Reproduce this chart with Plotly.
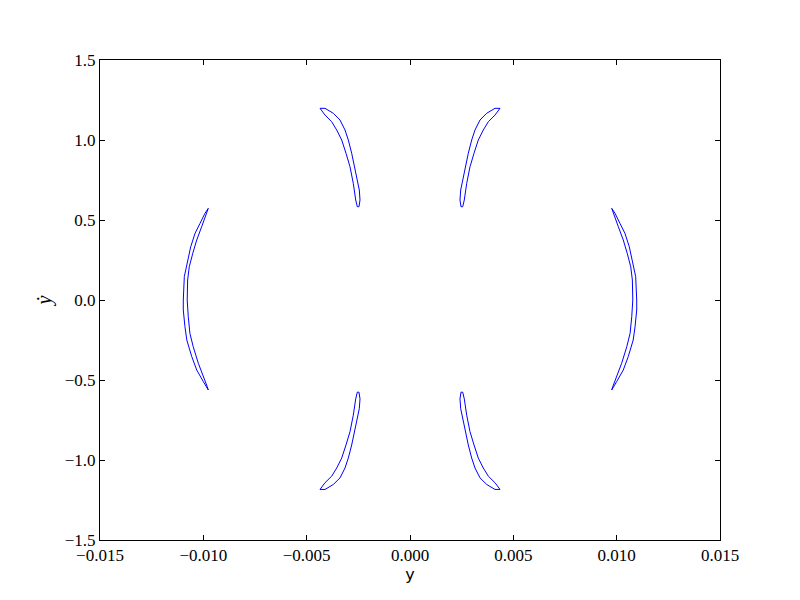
import plotly.graph_objects as go

# Upper-left crescent (outer edge and inner edge, tip to tip)
ul_outer_x = [-0.004355, -0.004113, -0.003711, -0.003387, -0.003145, -0.002985, -0.002821, -0.002695, -0.002579, -0.002453, -0.002419, -0.002468]
ul_outer_y = [1.198, 1.198, 1.167, 1.125, 1.0625, 1.0, 0.917, 0.833, 0.75, 0.6875, 0.625, 0.583]
ul_inner_x = [-0.004355, -0.004113, -0.003789, -0.003547, -0.003305, -0.003097, -0.002903, -0.002744, -0.002627, -0.00255]
ul_inner_y = [1.198, 1.156, 1.114, 1.0625, 1.0, 0.917, 0.833, 0.729, 0.625, 0.583]

# Upper-right crescent
ur_outer_x = [0.004355, 0.004113, 0.003711, 0.003387, 0.003145, 0.002985, 0.002821, 0.002695, 0.002579, 0.002453, 0.002419, 0.002468]
ur_outer_y = [1.198, 1.198, 1.167, 1.125, 1.0625, 1.0, 0.917, 0.833, 0.75, 0.6875, 0.625, 0.583]
ur_inner_x = [0.004355, 0.004113, 0.003789, 0.003547, 0.003305, 0.003097, 0.002903, 0.002744, 0.002627, 0.00255]
ur_inner_y = [1.198, 1.156, 1.114, 1.0625, 1.0, 0.917, 0.833, 0.729, 0.625, 0.583]

# Lower-left crescent
ll_outer_x = [-0.004355, -0.004113, -0.003711, -0.003387, -0.003145, -0.002985, -0.002821, -0.002695, -0.002579, -0.002453, -0.002419, -0.002468]
ll_outer_y = [-1.184, -1.184, -1.153, -1.112, -1.050, -0.988, -0.906, -0.823, -0.741, -0.679, -0.618, -0.576]
ll_inner_x = [-0.004355, -0.004113, -0.003789, -0.003547, -0.003305, -0.003097, -0.002903, -0.002744, -0.002627, -0.00255]
ll_inner_y = [-1.184, -1.142, -1.101, -1.050, -0.988, -0.906, -0.823, -0.720, -0.618, -0.576]

# Lower-right crescent
lr_outer_x = [0.004355, 0.004113, 0.003711, 0.003387, 0.003145, 0.002985, 0.002821, 0.002695, 0.002579, 0.002453, 0.002419, 0.002468]
lr_outer_y = [-1.184, -1.184, -1.153, -1.112, -1.050, -0.988, -0.906, -0.823, -0.741, -0.679, -0.618, -0.576]
lr_inner_x = [0.004355, 0.004113, 0.003789, 0.003547, 0.003305, 0.003097, 0.002903, 0.002744, 0.002627, 0.00255]
lr_inner_y = [-1.184, -1.142, -1.101, -1.050, -0.988, -0.906, -0.823, -0.720, -0.618, -0.576]

# Left crescent
l_outer_x = [-0.00976, -0.00992, -0.01016, -0.0104, -0.01061, -0.0108, -0.01092, -0.01097, -0.01097, -0.01089, -0.0108, -0.01056, -0.01032, -0.0100, -0.00976]
l_outer_y = [0.573, 0.542, 0.479, 0.417, 0.333, 0.229, 0.146, 0.0, -0.0625, -0.167, -0.25, -0.354, -0.4375, -0.51, -0.5625]
l_inner_x = [-0.00976, -0.00984, -0.01008, -0.01032, -0.01051, -0.01068, -0.01076, -0.01078, -0.01073, -0.01065, -0.01049, -0.01024, -0.0100, -0.00981, -0.00976]
l_inner_y = [0.573, 0.542, 0.458, 0.375, 0.292, 0.208, 0.125, 0.0, -0.104, -0.208, -0.292, -0.396, -0.479, -0.542, -0.5625]

# Right crescent
r_outer_x = [0.00976, 0.00992, 0.01016, 0.0104, 0.01061, 0.0108, 0.01092, 0.01097, 0.01097, 0.01089, 0.0108, 0.01056, 0.01032, 0.0100, 0.00976]
r_outer_y = [0.573, 0.542, 0.479, 0.417, 0.333, 0.229, 0.146, 0.0, -0.0625, -0.167, -0.25, -0.354, -0.4375, -0.51, -0.5625]
r_inner_x = [0.00976, 0.00984, 0.01008, 0.01032, 0.01051, 0.01068, 0.01076, 0.01078, 0.01073, 0.01065, 0.01049, 0.01024, 0.0100, 0.00981, 0.00976]
r_inner_y = [0.573, 0.542, 0.458, 0.375, 0.292, 0.208, 0.125, 0.0, -0.104, -0.208, -0.292, -0.396, -0.479, -0.542, -0.5625]

x_tick_vals = [-0.015, -0.010, -0.005, 0.0, 0.005, 0.010, 0.015]
x_tick_text = ["\u22120.015", "\u22120.010", "\u22120.005", "0.000", "0.005", "0.010", "0.015"]
y_tick_vals = [-1.5, -1.0, -0.5, 0.0, 0.5, 1.0, 1.5]
y_tick_text = ["\u22121.5", "\u22121.0", "\u22120.5", "0.0", "0.5", "1.0", "1.5"]

crescents = [
    (ul_outer_x, ul_outer_y, ul_inner_x, ul_inner_y),
    (ur_outer_x, ur_outer_y, ur_inner_x, ur_inner_y),
    (ll_outer_x, ll_outer_y, ll_inner_x, ll_inner_y),
    (lr_outer_x, lr_outer_y, lr_inner_x, lr_inner_y),
    (l_outer_x, l_outer_y, l_inner_x, l_inner_y),
    (r_outer_x, r_outer_y, r_inner_x, r_inner_y),
]

fig = go.Figure()
for ox, oy, ix, iy in crescents:
    xs = list(ox) + list(reversed(ix)) + [ox[0]]
    ys = list(oy) + list(reversed(iy)) + [oy[0]]
    fig.add_trace(go.Scatter(x=xs, y=ys, mode="lines",
                             line=dict(color="#0000ff", width=1),
                             showlegend=False, hoverinfo="skip"))

tick_font = dict(family="Liberation Serif, DejaVu Serif, serif", size=17, color="black")

# page body has an 8px default margin, so the figure is shrunk and shifted to match
fig.update_layout(
    width=792, height=592,
    margin=dict(l=92, r=80, t=52, b=60),
    paper_bgcolor="white", plot_bgcolor="white",
    showlegend=False,
    xaxis=dict(
        range=[-0.015, 0.015], tickvals=x_tick_vals, ticktext=x_tick_text,
        ticks="inside", ticklen=5, tickcolor="black", tickwidth=1,
        showline=True, linecolor="black", linewidth=1, mirror="ticks",
        showgrid=False, zeroline=False, tickfont=tick_font, automargin=False,
        title=dict(text="y", font=dict(family="DejaVu Sans, sans-serif", size=16, color="black"), standoff=4),
    ),
    yaxis=dict(
        range=[-1.5, 1.5], tickvals=y_tick_vals, ticktext=y_tick_text,
        ticks="inside", ticklen=5, tickcolor="black", tickwidth=1,
        showline=True, linecolor="black", linewidth=1, mirror="ticks",
        showgrid=False, zeroline=False, tickfont=tick_font, automargin=False,
        title=dict(text="<i>y\u0307</i>", font=dict(family="Liberation Serif, DejaVu Serif, serif", size=20, color="black"), standoff=7),
    ),
)

fig.write_html("out.html")
